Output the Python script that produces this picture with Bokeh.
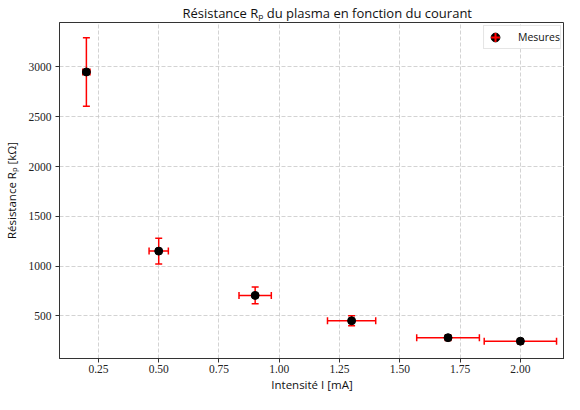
import numpy as np
from bokeh.plotting import figure
from bokeh.models import (Range1d, FixedTicker, NumeralTickFormatter, Legend,
                          LegendItem, ColumnDataSource)
from bokeh.embed import file_html
from bokeh.resources import INLINE

# Data
intensite = [0.2, 0.5, 0.9, 1.3, 1.7, 2.0]          # mA
resistance = [2950, 1150, 705, 450, 280, 245]       # kOhm
err_intensite = [0.015, 0.04, 0.067, 0.1, 0.13, 0.15]
err_resistance = [345, 130, 85, 50, 28, 25]
x_ticks = [0.25, 0.5, 0.75, 1.0, 1.25, 1.5, 1.75, 2.0]
y_ticks = [500, 1000, 1500, 2000, 2500, 3000]

x = np.array(intensite)
y = np.array(resistance)
ex = np.array(err_intensite)
ey = np.array(err_resistance)

src = ColumnDataSource(dict(
    x=x, y=y,
    xlo=x - ex, xhi=x + ex,
    ylo=y - ey, yhi=y + ey,
))

SANS = "Open Sans"
SERIF = "Liberation Serif"
RED = "#ff0000"

p = figure(width=564, height=394, output_backend="svg", toolbar_location=None,
           x_range=Range1d(0.0885, 2.183), y_range=Range1d(71, 3447),
           min_border_left=55, min_border_right=0, min_border_top=18,
           min_border_bottom=0)

p.title.text = "Résistance Rₚ du plasma en fonction du courant"
p.title.text_font = SANS
p.title.text_font_size = "13px"
p.title.text_font_style = "normal"
p.title.align = "left"
p.title.offset = 123
p.title.standoff = 2
p.title.text_color = "#111111"

# error bars
p.segment(x0="x", y0="ylo", x1="x", y1="yhi", source=src, line_color=RED, line_width=1.5)
p.segment(x0="xlo", y0="y", x1="xhi", y1="y", source=src, line_color=RED, line_width=1.5)
p.scatter(x="x", y="ylo", source=src, marker="dash", size=7, line_color=RED, line_width=1.5)
p.scatter(x="x", y="yhi", source=src, marker="dash", size=7, line_color=RED, line_width=1.5)
p.scatter(x="xlo", y="y", source=src, marker="dash", size=7, angle=np.pi / 2,
          line_color=RED, line_width=1.5)
p.scatter(x="xhi", y="y", source=src, marker="dash", size=7, angle=np.pi / 2,
          line_color=RED, line_width=1.5)
# small mark hidden under the points, used for the legend glyph
leg_cross = p.scatter(x="x", y="y", source=src, marker="cross", size=1,
                      line_color=RED, line_width=2)
pts = p.scatter(x="x", y="y", source=src, marker="circle", size=8,
                fill_color="black", line_color="black")

legend = Legend(items=[LegendItem(label="Mesures", renderers=[pts, leg_cross])],
                location="top_right")
legend.label_text_font = SANS
legend.label_text_font_size = "10.5px"
legend.label_text_color = "#111111"
legend.border_line_color = "#cccccc"
legend.border_line_width = 1
legend.background_fill_alpha = 0.85
legend.margin = 3
legend.padding = 0
legend.spacing = 0
legend.glyph_width = 22
legend.glyph_height = 22
legend.label_standoff = 12
legend.label_height = 14
p.add_layout(legend)

# grid
for g in (p.xgrid, p.ygrid):
    g.grid_line_color = "#c8c8c8"
    g.grid_line_dash = "4 2"
    g.grid_line_width = 0.8
p.xgrid.ticker = FixedTicker(ticks=x_ticks)
p.ygrid.ticker = FixedTicker(ticks=y_ticks)

# axes
p.xaxis.ticker = FixedTicker(ticks=x_ticks)
p.yaxis.ticker = FixedTicker(ticks=y_ticks)
p.xaxis.formatter = NumeralTickFormatter(format="0.00")
p.yaxis.formatter = NumeralTickFormatter(format="0")
p.xaxis.axis_label = "Intensité I [mA]"
p.yaxis.axis_label = "Résistance Rₚ [kΩ]"
for ax in (p.xaxis, p.yaxis):
    ax.axis_label_text_font = SANS
    ax.axis_label_text_font_size = "11.5px"
    ax.axis_label_text_font_style = "normal"
    ax.axis_label_text_color = "#111111"
    ax.axis_label_text_line_height = 1.0
    ax.major_label_text_font = SERIF
    ax.major_label_text_font_size = "11.5px"
    ax.major_label_text_color = "#222222"
    ax.major_label_text_line_height = 1.0
    ax.axis_line_color = "#333333"
    ax.major_tick_line_color = "#333333"
    ax.major_tick_out = 4
    ax.major_tick_in = 0
    ax.minor_tick_out = 0
    ax.minor_tick_in = 0
p.xaxis.major_label_standoff = 2
p.xaxis.axis_label_standoff = 1
p.yaxis.major_label_standoff = 4
p.yaxis.axis_label_standoff = 7

p.outline_line_color = "#333333"
p.background_fill_color = "white"
p.border_fill_color = "white"

open("out.html", "w").write(file_html(p, INLINE))
